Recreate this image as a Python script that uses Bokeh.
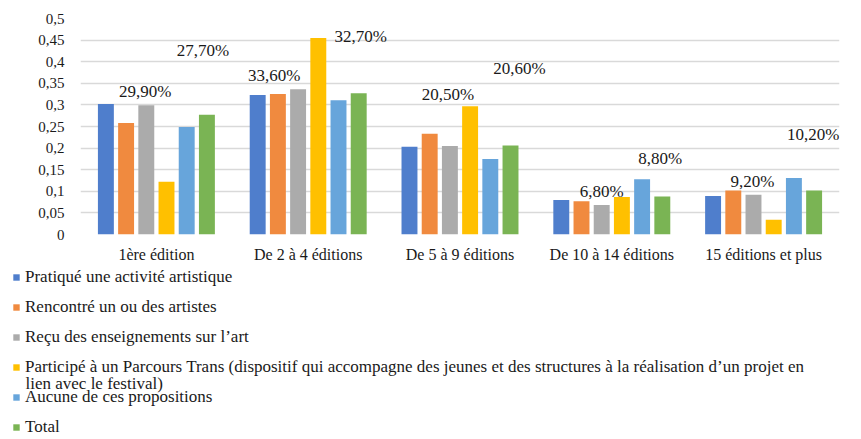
from bokeh.plotting import figure
from bokeh.layouts import column
from bokeh.models import (FactorRange, Range1d, FixedTicker, Legend, LegendItem,
                          ColumnDataSource, Label)
from bokeh.transform import dodge
from bokeh.embed import file_html
from bokeh.resources import INLINE

# ---------------- data ----------------
groups = ["1ère édition", "De 2 à 4 éditions", "De 5 à 9 éditions",
          "De 10 à 14 éditions", "15 éditions et plus"]
series_names = [
    "Pratiqué une activité artistique",
    "Rencontré un ou des artistes",
    "Reçu des enseignements sur l’art",
    "Participé à un Parcours Trans (dispositif qui accompagne des jeunes et des structures à la réalisation d’un projet en",
    "Aucune de ces propositions",
    "Total",
]
legend_wrap = "lien avec le festival)"
pratique = [0.302, 0.323, 0.203, 0.080, 0.089]
rencontre = [0.258, 0.325, 0.233, 0.077, 0.102]
recu = [0.299, 0.336, 0.205, 0.068, 0.092]
parcours = [0.122, 0.455, 0.297, 0.087, 0.034]
aucune = [0.249, 0.311, 0.175, 0.128, 0.131]
total = [0.277, 0.327, 0.206, 0.088, 0.102]
y_ticks = [0, 0.05, 0.1, 0.15, 0.2, 0.25, 0.3, 0.35, 0.4, 0.45, 0.5]
y_tick_labels = ["0", "0,05", "0,1", "0,15", "0,2", "0,25", "0,3", "0,35", "0,4", "0,45", "0,5"]

# ---------------- style / layout ----------------
colors = ["#4F7ECC", "#F08A3F", "#ABABAB", "#FFC000", "#67A5DB", "#7AB454"]
FONT = "Liberation Serif"
TXT = "#1a1a1a"
step = 0.1331
bar_w = 0.105
gray_dx = [-1, -24, -2, 0, -1]
gray_dy = [14, 14, 51, 14, 13]
green_dx = [-4, 2, 9, -2, -1]
green_dy = [64, 57, 77, 38, 56]

series = [pratique, rencontre, recu, parcours, aucune, total]

p = figure(x_range=FactorRange(*groups, range_padding=0), y_range=Range1d(0, 0.5),
           width=861, height=265, output_backend="svg", toolbar_location=None,
           min_border_left=80, min_border_right=22, min_border_top=18,
           min_border_bottom=28)
p.outline_line_color = None

for i, vals in enumerate(series):
    src = ColumnDataSource(dict(group=groups, val=vals))
    p.vbar(x=dodge("group", (i - 2.5) * step, range=p.x_range), top="val",
           width=bar_w, source=src, fill_color=colors[i], line_color=None)

def fmt(v):
    return ("%.2f%%" % (v * 100)).replace(".", ",")

for idx, dx, dy in [(2, gray_dx, gray_dy), (5, green_dx, green_dy)]:
    vals = series[idx]
    src = ColumnDataSource(dict(group=groups, val=vals, txt=[fmt(v) for v in vals],
                                dx=dx, dy=[-d for d in dy]))
    p.text(x=dodge("group", (idx - 2.5) * step, range=p.x_range), y="val", text="txt",
           x_offset="dx", y_offset="dy", source=src, text_align="center",
           text_baseline="middle", text_font=FONT, text_font_size="17px",
           text_color=TXT)

p.yaxis.ticker = FixedTicker(ticks=y_ticks)
p.yaxis.major_label_overrides = {t: l for t, l in zip(y_ticks, y_tick_labels)}
p.yaxis.axis_line_color = None
p.yaxis.major_tick_line_color = None
p.yaxis.minor_tick_line_color = None
p.yaxis.major_label_standoff = 10
p.yaxis.major_label_text_font = FONT
p.yaxis.major_label_text_font_size = "15px"
p.yaxis.major_label_text_color = TXT

p.xaxis.axis_line_color = None
p.xaxis.major_tick_line_color = None
p.xaxis.major_label_standoff = 5
p.xaxis.major_label_text_font = FONT
p.xaxis.major_label_text_font_size = "16px"
p.xaxis.major_label_text_color = TXT

p.xgrid.grid_line_color = None
p.ygrid.grid_line_color = "#D9D9D9"
p.ygrid.grid_line_width = 1.5

# legend figure (below the chart)
lg = figure(width=861, height=174, output_backend="svg", toolbar_location=None,
            x_range=Range1d(0, 1), y_range=Range1d(0, 1),
            min_border_left=12, min_border_right=0, min_border_top=2, min_border_bottom=0,
            x_axis_location=None, y_axis_location=None)
lg.outline_line_color = None
lg.grid.grid_line_color = None
swatches = []
for i in range(len(series)):
    swatches.append(lg.vbar(x=[-5], top=[-5], width=0.1, fill_color=colors[i], line_color=None))

legend = Legend(items=[LegendItem(label=n, renderers=[r]) for n, r in zip(series_names, swatches)],
                location="top_left", orientation="vertical",
                border_line_color=None, background_fill_alpha=0,
                padding=0, margin=0, glyph_width=8, glyph_height=8,
                label_standoff=5, spacing=10, label_height=20,
                label_text_font=FONT, label_text_font_size="17px",
                label_text_color=TXT)
lg.add_layout(legend)
lg.add_layout(Label(x=13, y=56, x_units="screen", y_units="screen", text=legend_wrap,
                    text_font=FONT, text_font_size="17px", text_baseline="middle",
                    text_color=TXT))

layout = column(p, column(lg), spacing=0)
open("out.html", "w").write(file_html(layout, INLINE))
